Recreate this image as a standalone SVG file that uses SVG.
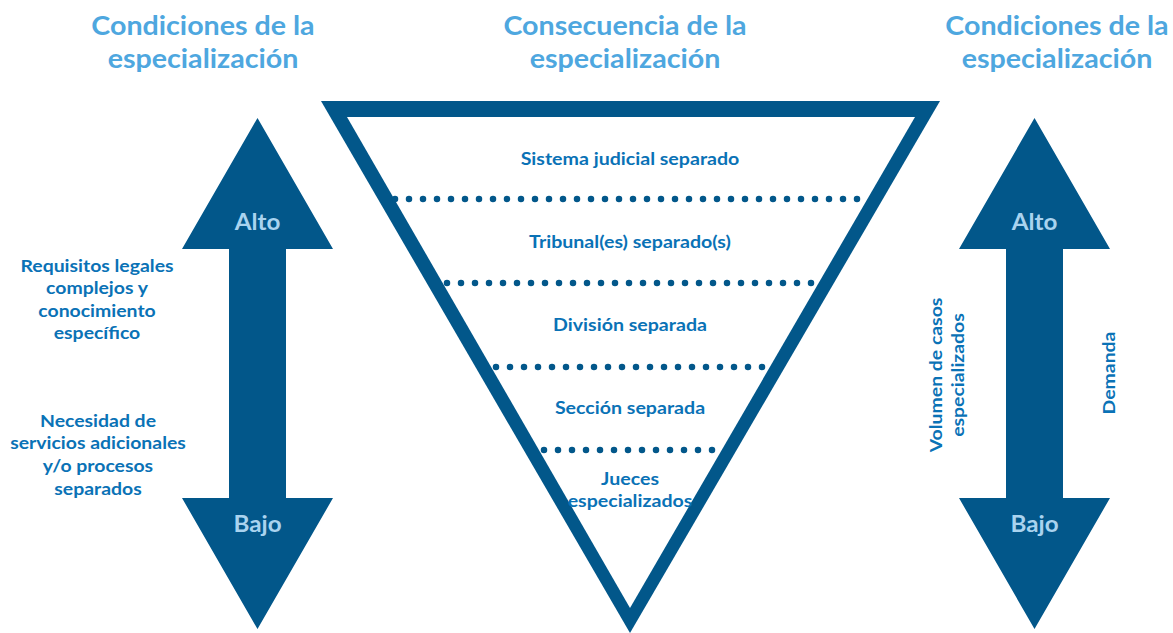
<svg xmlns="http://www.w3.org/2000/svg" width="1173" height="633" viewBox="0 0 1173 633">
<style>
text{font-family:Lato,"Open Sans","Liberation Sans",sans-serif;font-weight:bold;text-anchor:middle}
.title{font-size:26.5px;fill:#4ea7df}
.lbl{font-size:17.5px;fill:#0a72b6}
.ab{font-size:22px;fill:#a9d3ef}
.shape{fill:#02578a}
.dots{stroke:#02578a;stroke-width:6.5;stroke-linecap:round;stroke-dasharray:0 14;fill:none}
</style>
<g id="titles">
<text class="title" transform="translate(203,35) scale(1.08,1)">Condiciones de la</text>
<text class="title" transform="translate(203,68) scale(1.08,1)">especialización</text>
<text class="title" transform="translate(625,35) scale(1.08,1)">Consecuencia de la</text>
<text class="title" transform="translate(625,68) scale(1.08,1)">especialización</text>
<text class="title" transform="translate(1057,35) scale(1.08,1)">Condiciones de la</text>
<text class="title" transform="translate(1057,68) scale(1.08,1)">especialización</text>
</g>
<g id="left-arrow">
<polygon class="shape" points="257.5,118 333,249 286,249 286,498 333,498 257.5,629 182,498 229,498 229,249 182,249"/>
<text class="ab" transform="translate(257.5,230) scale(1.1,1)">Alto</text>
<text class="ab" transform="translate(257.5,532) scale(1.1,1)">Bajo</text>
</g>
<g id="right-arrow">
<polygon class="shape" points="1034.5,118 1110,249 1063,249 1063,498 1110,498 1034.5,629 959,498 1006,498 1006,249 959,249"/>
<text class="ab" transform="translate(1034.5,230) scale(1.1,1)">Alto</text>
<text class="ab" transform="translate(1034.5,532) scale(1.1,1)">Bajo</text>
</g>
<g id="left-labels">
<text class="lbl" transform="translate(97,272) scale(1.11,1)">Requisitos legales</text>
<text class="lbl" transform="translate(97,294) scale(1.11,1)">complejos y</text>
<text class="lbl" transform="translate(97,317) scale(1.11,1)">conocimiento</text>
<text class="lbl" transform="translate(97,339) scale(1.11,1)">específico</text>
<text class="lbl" transform="translate(98,427) scale(1.11,1)">Necesidad de</text>
<text class="lbl" transform="translate(98,449) scale(1.11,1)">servicios adicionales</text>
<text class="lbl" transform="translate(98,472) scale(1.11,1)">y/o procesos</text>
<text class="lbl" transform="translate(98,495) scale(1.11,1)">separados</text>
</g>
<g id="right-labels">
<text class="lbl" transform="translate(942,375) rotate(-90) scale(1.11,1)">Volumen de casos</text>
<text class="lbl" transform="translate(964,375) rotate(-90) scale(1.11,1)">especializados</text>
<text class="lbl" transform="translate(1115,373) rotate(-90) scale(1.11,1)">Demanda</text>
</g>
<g id="triangle">
<polygon class="shape" points="321,101 940,101 630,633"/>
<polygon fill="#fff" points="347,117 915,117 630,608"/>
</g>
<g id="connectors">
<line class="dots" x1="395" y1="199" x2="862" y2="199"/>
<line class="dots" x1="447" y1="283" x2="817" y2="283"/>
<line class="dots" x1="496" y1="367" x2="766" y2="367"/>
<line class="dots" x1="544" y1="450" x2="716" y2="450"/>
</g>
<g id="levels">
<text class="lbl" transform="translate(630,165) scale(1.12,1)">Sistema judicial separado</text>
<text class="lbl" transform="translate(630,248) scale(1.12,1)">Tribunal(es) separado(s)</text>
<text class="lbl" transform="translate(630,331) scale(1.12,1)">División separada</text>
<text class="lbl" transform="translate(630,414) scale(1.12,1)">Sección separada</text>
<text class="lbl" transform="translate(630,485) scale(1.12,1)">Jueces</text>
<text class="lbl" transform="translate(630,507) scale(1.12,1)">especializados</text>
</g>
</svg>
